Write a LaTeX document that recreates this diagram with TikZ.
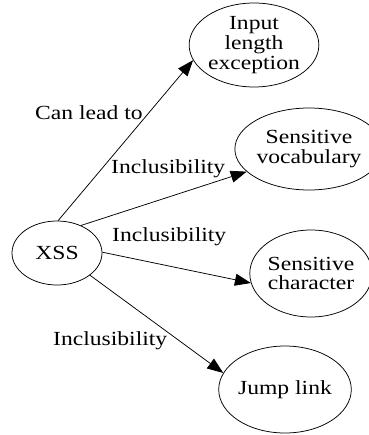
\documentclass[tikz,border=0pt]{standalone}
\usepackage{fontspec}
\setmainfont{Liberation Serif}[FakeStretch=1.18]
\usetikzlibrary{shapes.geometric,arrows.meta}
\begin{document}
\begin{tikzpicture}[x=1pt,y=-1pt,
  every node/.style={font=\fontsize{20}{19.8}\selectfont},
  concept/.style={ellipse,draw,line width=0.75pt,inner sep=0pt,align=center},
  rel/.style={line width=0.75pt,-{Triangle[length=16pt,width=12pt]}},
  lbl/.style={anchor=base west,inner sep=0pt}]
\useasboundingbox (0,0) rectangle (368,435);

% concepts
\node[concept,minimum width=90pt,minimum height=64pt] (xss) at (57,253) {XSS};
\node[concept,minimum width=125pt,minimum height=84pt] (input) at (254,45) {Input\\length\\exception};
\node[concept,minimum width=118pt,minimum height=82pt] (vocab) at (309,149) {Sensitive\\vocabulary};
\node[concept,minimum width=111pt,minimum height=87pt] (char) at (311,273.5) {Sensitive\\character};
\node[concept,minimum width=124pt,minimum height=87pt] (jump) at (285,389.5) {Jump link};

% relations
\draw[rel] (xss.88) -- (input.194);
\draw[rel] (xss.49) -- (vocab.200);
\draw[rel] (xss.1) -- (char.189);
\draw[rel] (xss.326) -- (jump.165);

% relation labels
\node[lbl] (l1) at (35,120) {Can lead to};
\node[lbl] (l2) at (111,174) {Inclusibility};
\node[lbl] (l3) at (112,241.5) {Inclusibility};
\node[lbl] (l4) at (53,345) {Inclusibility};
\end{tikzpicture}
\end{document}
